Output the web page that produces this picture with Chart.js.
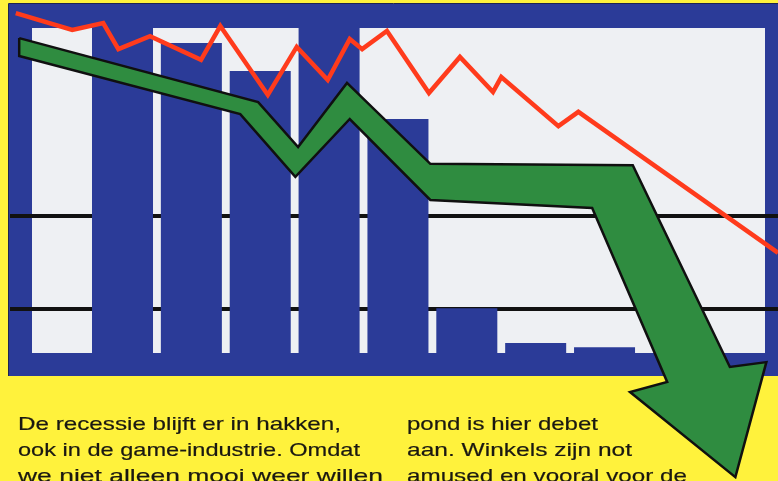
<!DOCTYPE html>
<html><head><meta charset="utf-8">
<script src="https://cdn.jsdelivr.net/npm/chart.js@4.4.0/dist/chart.umd.min.js"></script>
<style>html,body{margin:0;padding:0;background:#fff23c;overflow:hidden}#wrap{width:778px;height:481px}</style>
</head><body><div id="wrap"><canvas id="c" width="778" height="481"></canvas></div>
<script>
// Bars (blue), one per period
const barX = [1, 2, 3, 4, 5, 6, 7, 8];
const barValues = [100, 95.4, 86.8, 100, 72.0, 13.8, 3.1, 1.8];
// Red line
const redX = [-0.55, 0.27, 0.72, 0.94, 1.40, 2.14, 2.42, 3.11, 3.53, 3.98, 4.30, 4.48, 4.84, 5.45, 5.90, 6.38, 6.50, 7.33, 7.62, 10.52];
const redY = [104.6, 99.4, 101.5, 93.5, 97.5, 90.2, 100.6, 79.4, 94.2, 84.0, 96.6, 93.5, 99.1, 80.0, 91.1, 80.3, 84.9, 69.8, 74.2, 30.8];
// Green trend arrow outline
const arrowX = [-0.50, 2.97, 3.55, 4.26, 5.47, 8.41, 9.82, 10.35, 9.90, 8.37, 8.91, 7.82, 5.47, 4.30, 3.51, 2.71, -0.50, -0.50];
const arrowY = [96.9, 77.2, 63.4, 83.1, 58.2, 57.8, -4.3, -2.8, -38.2, -12.0, -8.9, 44.6, 47.1, 72.0, 54.2, 73.5, 91.4, 96.9];
// Horizontal reference lines
const gridValues = [13.5, 42.2];
// Caption text
const textLeft = ["De recessie blijft er in hakken,", "ook in de game-industrie. Omdat", "we niet alleen mooi weer willen"];
const textRight = ["pond is hier debet", "aan. Winkels zijn not", "amused en vooral voor de"];

const YELLOW = '#fff23c', BLUE = '#2b3b98', PANEL = '#eef0f3';

const backdrop = {
  id: 'backdrop',
  beforeDraw(chart) {
    const ctx = chart.ctx;
    ctx.save();
    ctx.fillStyle = YELLOW; ctx.fillRect(0, 0, 778, 481);
    ctx.fillStyle = BLUE; ctx.fillRect(9, 4, 775, 372);
    ctx.strokeStyle = '#1e2450'; ctx.lineWidth = 1;
    ctx.beginPath(); ctx.moveTo(8.5, 376); ctx.lineTo(8.5, 3.5); ctx.lineTo(778, 3.5); ctx.stroke();
    ctx.fillStyle = PANEL; ctx.fillRect(32, 28, 733, 325);
    // caption text
    ctx.fillStyle = '#1a1812';
    ctx.strokeStyle = '#1a1812';
    ctx.lineWidth = 0.2;
    ctx.font = '19px "Liberation Sans", Arial, sans-serif';
    ctx.textBaseline = 'alphabetic';
    const drawCol = (lines, x, widths) => {
      lines.forEach((t, i) => {
        const w = ctx.measureText(t).width;
        const s = widths[i] / w;
        ctx.save();
        ctx.translate(x, 430 + i * 26);
        ctx.scale(s, 1);
        ctx.fillText(t, 0, 0);
        ctx.strokeText(t, 0, 0);
        ctx.restore();
      });
    };
    drawCol(textLeft, 18, [323, 342, 365]);
    drawCol(textRight, 407, [191, 225, 280]);
    ctx.restore();
  },
  beforeDatasetsDraw(chart) {
    const ctx = chart.ctx, y = chart.scales.y;
    ctx.save();
    ctx.strokeStyle = '#111'; ctx.lineWidth = 4;
    gridValues.forEach(v => {
      const py = Math.round(y.getPixelForValue(v));
      ctx.beginPath(); ctx.moveTo(10, py); ctx.lineTo(778, py); ctx.stroke();
    });
    ctx.restore();
  }
};

new Chart(document.getElementById('c'), {
  type: 'bar',
  data: {
    datasets: [
      {
        type: 'line', label: 'trend', order: 1,
        data: arrowX.map((x, i) => ({x, y: arrowY[i]})),
        borderColor: '#101010', borderWidth: 2.5, backgroundColor: '#2f8c40',
        fill: 'shape', pointRadius: 0, tension: 0, borderJoinStyle: 'miter', clip: false
      },
      {
        type: 'line', label: 'red', order: 2,
        data: redX.map((x, i) => ({x, y: redY[i]})),
        borderColor: '#ff3b1c', borderWidth: 4.5, pointRadius: 0, tension: 0,
        borderJoinStyle: 'miter', fill: false, clip: false
      },
      {
        type: 'bar', label: 'bars', order: 3,
        data: barX.map((x, i) => ({x, y: barValues[i]})),
        backgroundColor: BLUE, borderWidth: 0,
        barPercentage: 0.886, categoryPercentage: 1
      }
    ]
  },
  options: {
    responsive: false, animation: false, devicePixelRatio: 1,
    layout: {padding: 0},
    plugins: {legend: {display: false}, tooltip: {enabled: false}},
    scales: {
      x: {type: 'linear', display: false, min: -0.779, max: 10.519, offset: false},
      y: {type: 'linear', display: false, min: -39.38, max: 108.62}
    }
  },
  plugins: [backdrop]
});
</script>
</body></html>
